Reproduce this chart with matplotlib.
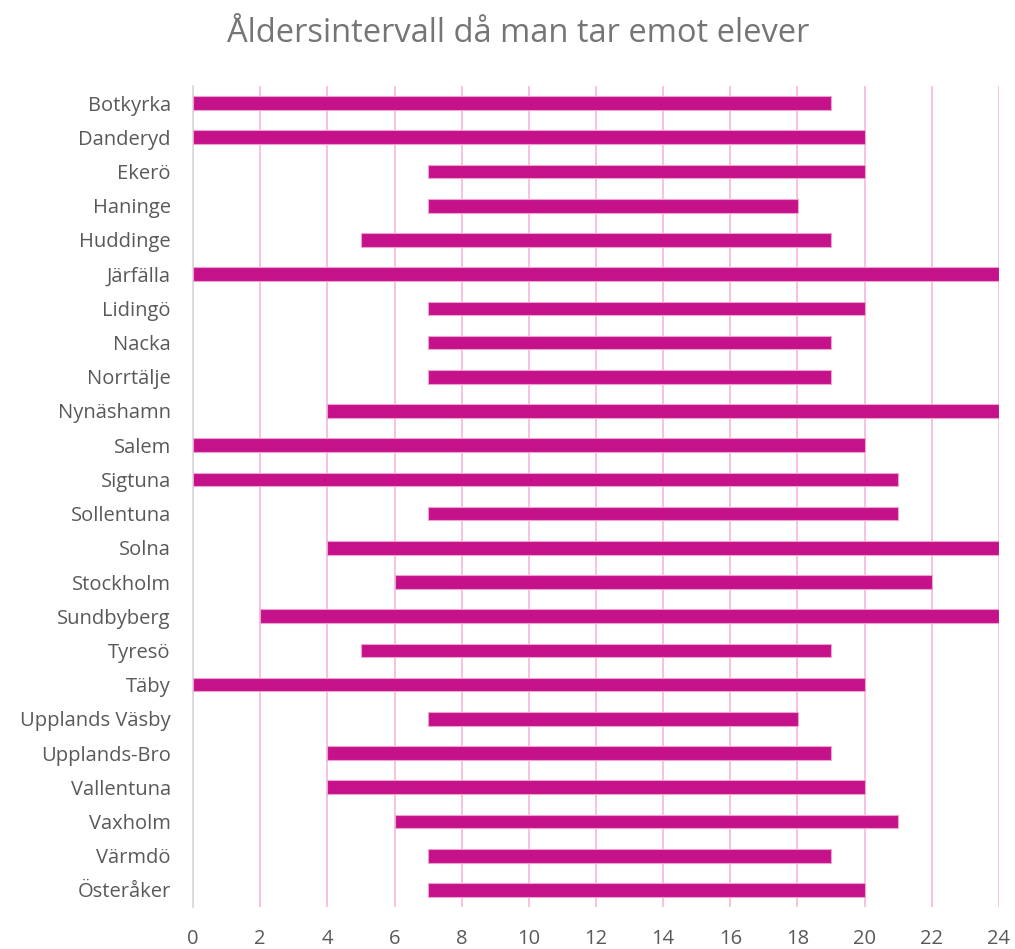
import matplotlib.pyplot as plt

kommuner = ["Botkyrka", "Danderyd", "Ekerö", "Haninge", "Huddinge", "Järfälla",
            "Lidingö", "Nacka", "Norrtälje", "Nynäshamn", "Salem", "Sigtuna",
            "Sollentuna", "Solna", "Stockholm", "Sundbyberg", "Tyresö", "Täby",
            "Upplands Väsby", "Upplands-Bro", "Vallentuna", "Vaxholm", "Värmdö",
            "Österåker"]
fran_alder = [0, 0, 7, 7, 5, 0, 7, 7, 7, 4, 0, 0, 7, 4, 6, 2, 5, 0, 7, 4, 4, 6, 7, 7]
till_alder = [19, 20, 20, 18, 19, 24, 20, 19, 19, 24, 20, 21, 21, 24, 22, 24, 19, 20,
              18, 19, 20, 21, 19, 20]
xticks = list(range(0, 25, 2))

plt.rcParams["font.family"] = ["Open Sans", "DejaVu Sans"]

fig = plt.figure(figsize=(10.15, 9.49), dpi=100)
ax = fig.add_axes([193 / 1015, 1 - 907 / 949, (999 - 193) / 1015, (907 - 86) / 949])

y = list(range(len(kommuner)))
bredd = [t - f for f, t in zip(fran_alder, till_alder)]
ax.barh(y, bredd, left=fran_alder, height=0.4, color="#C5118A",
        edgecolor="#EBA3CF", linewidth=0.8, zorder=3)

ax.set_xlim(0, 24)
ax.set_ylim(len(kommuner) - 0.5, -0.5)
ax.set_xticks(xticks)
ax.set_yticks(y)
ax.set_yticklabels(kommuner)
ax.tick_params(axis="both", length=0, colors="#595959", labelsize=14.5)
ax.tick_params(axis="x", pad=16)
ax.tick_params(axis="y", pad=16)

ax.grid(axis="x", color="#F7B8DC", linewidth=1.2, zorder=0)
for s in ["top", "right", "bottom"]:
    ax.spines[s].set_visible(False)
ax.spines["left"].set_color("#D9D9D9")
ax.spines["left"].set_linewidth(1.2)

fig.text(518 / 1015, 1 - 33 / 949, "Åldersintervall då man tar emot elever",
         ha="center", va="center", fontsize=23.5, color="#757575")

fig.savefig("out.png", dpi=100)
